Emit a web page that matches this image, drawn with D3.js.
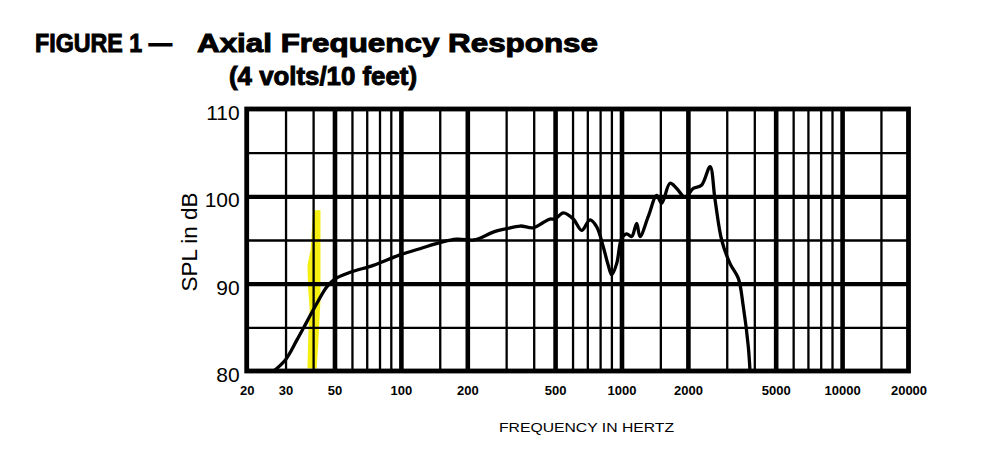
<!DOCTYPE html>
<html>
<head>
<meta charset="utf-8">
<script src="https://cdn.jsdelivr.net/npm/d3@7"></script>
<style>
  html, body { margin: 0; padding: 0; background: #fff; }
  svg { display: block; }
</style>
</head>
<body>
<script>
// ---- data ----
const freqHz = [26.5, 30, 33.7, 37.4, 41.5, 46, 50, 59, 75, 99, 122, 150, 179, 213, 228, 262, 302, 347, 398, 442, 474, 500, 545, 605, 660, 720, 772, 827, 871, 903, 951, 1002, 1056, 1112, 1172, 1213, 1323, 1444, 1521, 1659, 1779, 1941, 2116, 2310, 2520, 2655, 2845, 3105, 3386, 3565, 3757, 3824];
const splDb  = [80, 81.3, 83.5, 85.6, 87.7, 89.6, 90.5, 91.3, 92.1, 93.3, 94.0, 94.7, 95.1, 95.0, 95.2, 95.9, 96.3, 96.6, 96.4, 97.0, 97.4, 97.4, 98.1, 97.4, 96.1, 97.3, 96.5, 94.2, 92.1, 91.0, 92.3, 95.2, 95.7, 95.4, 96.9, 95.4, 97.7, 100.1, 99.2, 101.5, 100.9, 99.9, 100.9, 101.3, 103.4, 99.6, 95.0, 92.3, 90.6, 87.4, 82.8, 80.0];

const xTickLabels = [20, 30, 50, 100, 200, 500, 1000, 2000, 5000, 10000, 20000];
const yTickLabels = [80, 90, 100, 110];
const xGridThin  = [30, 40, 60, 70, 80, 90, 150, 300, 400, 600, 700, 800, 900, 1500, 3000, 4000, 6000, 7000, 8000, 9000, 15000];
const xGridThick = [50, 100, 200, 500, 1000, 2000, 5000, 10000];
const yGridThin  = [85, 95, 105];
const yGridThick = [90, 100];

// yellow highlighter mark (frequency, dB) outline
const markFreq = [40.0, 43.2, 43.2, 42.3, 41.5, 37.7, 38.1, 38.6, 38.0, 37.7, 39.0];
const markDb   = [98.4, 98.4, 88.1, 83.5, 80.3, 80.3, 84.7, 87.0, 89.3, 92.1, 93.9];

const titleMain = "FIGURE 1 —";
const titleRest = "Axial Frequency Response";
const titleSub = "(4 volts/10 feet)";
const yTitle = "SPL in dB";
const xTitle = "FREQUENCY IN HERTZ";

// ---- chart ----
const W = 1005, H = 471;
const svg = d3.select("body").append("svg").attr("width", W).attr("height", H);
svg.append("rect").attr("width", W).attr("height", H).attr("fill", "#fff");

const x = d3.scaleLog().domain([20, 20000]).range([246.7, 908.5]);
const y = d3.scaleLinear().domain([80, 110]).range([371, 109]);
const plotH = y(80) - y(110);
const plotW = x(20000) - x(20);

// highlighter
const markPts = markFreq.map((f, i) => [f, markDb[i]]);
svg.append("path")
  .attr("d", d3.line().x(d => x(d[0])).y(d => y(d[1])).curve(d3.curveLinearClosed)(markPts))
  .attr("fill", "#f6ef12");

// grid via axes
function vGrid(vals, sw) {
  const g = svg.append("g").attr("transform", `translate(0,${y(80)})`)
    .call(d3.axisBottom(x).tickValues(vals).tickSize(-plotH).tickFormat(""));
  g.select(".domain").remove();
  g.selectAll("line").attr("stroke", "#000").attr("stroke-width", sw);
}
function hGrid(vals, sw) {
  const g = svg.append("g").attr("transform", `translate(${x(20)},0)`)
    .call(d3.axisLeft(y).tickValues(vals).tickSize(-plotW).tickFormat(""));
  g.select(".domain").remove();
  g.selectAll("line").attr("stroke", "#000").attr("stroke-width", sw);
}
vGrid(xGridThin, 2.3);
hGrid(yGridThin, 2.4);
vGrid(xGridThick, 4.6);
hGrid(yGridThick, 4.2);

// border
svg.append("rect")
  .attr("x", x(20)).attr("y", y(110))
  .attr("width", plotW).attr("height", plotH)
  .attr("fill", "none").attr("stroke", "#000").attr("stroke-width", 4.8);

// curve
const pts = freqHz.map((f, i) => [f, splDb[i]]);
svg.append("path")
  .attr("d", d3.line().x(d => x(d[0])).y(d => y(d[1])).curve(d3.curveCatmullRom.alpha(0.5))(pts))
  .attr("fill", "none").attr("stroke", "#000").attr("stroke-width", 3.3)
  .attr("stroke-linejoin", "round").attr("stroke-linecap", "round");

// x tick labels
const xa = svg.append("g").attr("transform", `translate(0,${y(80)})`)
  .call(d3.axisBottom(x).tickValues(xTickLabels).tickFormat(d3.format("d")).tickSize(0).tickPadding(15));
xa.select(".domain").remove();
xa.selectAll("text").attr("font-family", "'Liberation Sans', Arial, sans-serif")
  .attr("font-weight", "bold").attr("font-size", 13).attr("fill", "#000");

// y tick labels
const ya = svg.append("g").attr("transform", `translate(${x(20)},0)`)
  .call(d3.axisLeft(y).tickValues(yTickLabels).tickSize(0).tickPadding(7));
ya.select(".domain").remove();
ya.selectAll("text").attr("font-family", "'Liberation Sans', Arial, sans-serif")
  .attr("font-size", 21).attr("dy", "0.5em").attr("fill", "#000");

// axis titles
svg.append("text")
  .attr("transform", "translate(197,242) rotate(-90)")
  .attr("text-anchor", "middle")
  .attr("font-family", "'Liberation Sans', Arial, sans-serif")
  .attr("font-size", 22.5).attr("fill", "#000").text(yTitle);

svg.append("text")
  .attr("x", 499).attr("y", 431.5)
  .attr("font-family", "'Liberation Sans', Arial, sans-serif")
  .attr("font-size", 13).attr("fill", "#000")
  .attr("textLength", 175).attr("lengthAdjust", "spacingAndGlyphs")
  .text(xTitle);

// title
function titleText(tx, ty, len, str) {
  svg.append("text")
    .attr("x", tx).attr("y", ty)
    .attr("font-family", "'Liberation Sans', Arial, sans-serif")
    .attr("font-weight", "bold").attr("font-size", 26.5)
    .attr("fill", "#000").attr("stroke", "#000").attr("stroke-width", 1)
    .attr("textLength", len).attr("lengthAdjust", "spacingAndGlyphs")
    .text(str);
}
titleText(35, 52, 137, titleMain);
titleText(197, 52, 401, titleRest);
titleText(229, 85, 188, titleSub);
</script>
</body>
</html>
